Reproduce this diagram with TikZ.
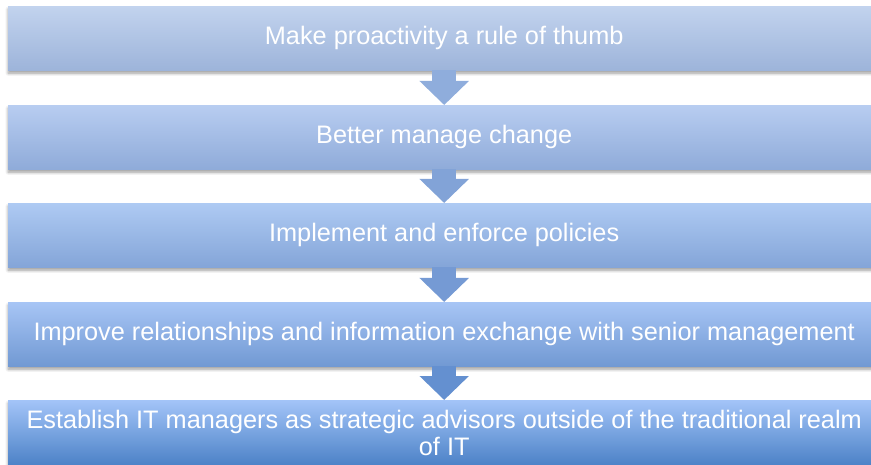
\documentclass[tikz,border=0pt]{standalone}
\usepackage{fontspec}
\setmainfont{Liberation Sans}
\usetikzlibrary{arrows.meta}
\usetikzlibrary{shadows.blur}

% gradient colours, light on top, getting stronger downwards
\definecolor{topA}{RGB}{194,211,238}
\definecolor{botA}{RGB}{157,180,218}
\definecolor{topB}{RGB}{184,205,241}
\definecolor{botB}{RGB}{143,171,217}
\definecolor{topC}{RGB}{174,202,243}
\definecolor{botC}{RGB}{132,165,216}
\definecolor{topD}{RGB}{167,197,245}
\definecolor{botD}{RGB}{113,153,211}
\definecolor{topE}{RGB}{163,196,248}
\definecolor{botE}{RGB}{76,130,199}
\definecolor{arrowA}{RGB}{143,173,220}
\definecolor{arrowB}{RGB}{130,163,215}
\definecolor{arrowC}{RGB}{117,154,212}
\definecolor{arrowD}{RGB}{100,144,208}

\begin{document}
\begin{tikzpicture}[x=1pt, y=-1pt,
    stage/.style={minimum width=872pt, minimum height=64pt, anchor=north west,
        inner sep=0pt, text=white, align=center,
        font=\fontsize{25.3}{27}\selectfont,
        blur shadow={shadow xshift=0pt, shadow yshift=-3pt,
            shadow opacity=40, shadow blur radius=3pt, shadow blur steps=8}},
    flow/.style={line width=24pt, -{Triangle[width=48pt,length=24pt]}}]
    \useasboundingbox (0,0) rectangle (871,465);

    % Draw the five stages
    \node[stage, top color=topA, bottom color=botA] (proactive) at (8,6)
        {Make proactivity a rule of thumb};
    \node[stage, top color=topB, bottom color=botB] (change) at (8,105)
        {Better manage change};
    \node[stage, top color=topC, bottom color=botC] (policies) at (8,203)
        {Implement and enforce policies};
    \node[stage, top color=topD, bottom color=botD] (senior) at (8,302)
        {Improve relationships and information exchange with senior management};
    \node[stage, minimum height=65pt, top color=topE, bottom color=botE] (advisors) at (8,400)
        {Establish IT managers as strategic advisors outside of the traditional realm\\of IT};

    % Draw the block arrows between stages
    \draw[flow, arrowA] (proactive.south) -- (change.north);
    \draw[flow, arrowB] (change.south) -- (policies.north);
    \draw[flow, arrowC] (policies.south) -- (senior.north);
    \draw[flow, arrowD] (senior.south) -- (advisors.north);
\end{tikzpicture}
\end{document}
